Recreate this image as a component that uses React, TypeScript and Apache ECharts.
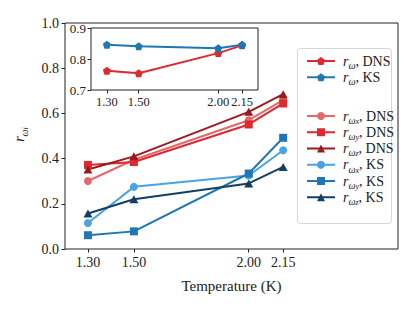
import React, { useEffect, useRef } from "react";
import * as echarts from "echarts";

const temps = [1.3, 1.5, 2.0, 2.15];
const insetDNS = [0.762, 0.754, 0.819, 0.844];
const insetKS = [0.846, 0.841, 0.835, 0.846];
const dnsX = [0.301, 0.395, 0.57, 0.659];
const dnsY = [0.372, 0.385, 0.551, 0.644];
const dnsZ = [0.352, 0.41, 0.607, 0.685];
const ksX = [0.115, 0.275, 0.325, 0.437];
const ksY = [0.061, 0.078, 0.334, 0.492];
const ksZ = [0.157, 0.22, 0.29, 0.363];

const FONT = "'Liberation Serif', 'DejaVu Serif', serif";
const INK = "#222";
const PENT = "path://M0,-1L0.951,-0.309L0.588,0.809L-0.588,0.809L-0.951,-0.309Z";

const labelMap: Record<string, string> = {
  "w DNS": "{r|r}{s|ω}{t|, DNS}",
  "w KS": "{r|r}{s|ω}{t|, KS}",
  "wx DNS": "{r|r}{s|ω}{q|x}{t|, DNS}",
  "wy DNS": "{r|r}{s|ω}{q|y}{t|, DNS}",
  "wz DNS": "{r|r}{s|ω}{q|z}{t|, DNS}",
  "wx KS": "{r|r}{s|ω}{q|x}{t|, KS}",
  "wy KS": "{r|r}{s|ω}{q|y}{t|, KS}",
  "wz KS": "{r|r}{s|ω}{q|z}{t|, KS}",
};

const rich = {
  r: { fontFamily: FONT, fontStyle: "italic", fontSize: 14, lineHeight: 18.5, color: INK, padding: [0, 0, 0, 3] },
  s: { fontFamily: FONT, fontStyle: "italic", fontSize: 10, lineHeight: 10, verticalAlign: "bottom", color: INK },
  q: { fontFamily: FONT, fontStyle: "italic", fontSize: 8, lineHeight: 8, verticalAlign: "bottom", color: INK },
  t: { fontFamily: FONT, fontSize: 14, lineHeight: 18.5, color: INK },
};

function mk(name: string, data: number[], color: string, symbol: string, size: any, xi = 0) {
  return {
    name,
    type: "line",
    xAxisIndex: xi,
    yAxisIndex: xi,
    data: temps.map((t, i) => [t, data[i]]),
    symbol,
    symbolSize: size,
    showSymbol: true,
    lineStyle: { color, width: 2 },
    itemStyle: { color },
    emphasis: { disabled: true },
  };
}

export default function App() {
  const ref = useRef<HTMLDivElement>(null);
  useEffect(() => {
    if (!ref.current) return;
    const chart = echarts.init(ref.current, null, { renderer: "svg" });
    const tickLabel = { fontFamily: FONT, fontSize: 14, color: INK };
    chart.setOption({
      animation: false,
      backgroundColor: "#fff",
      grid: [
        { left: 65, right: 17, top: 23, bottom: 63, show: true, borderColor: INK, borderWidth: 1 },
        { left: 91, right: 157, top: 28, bottom: 222, show: true, borderColor: INK, borderWidth: 1, backgroundColor: "#fff" },
      ],
      xAxis: [
        {
          type: "value", gridIndex: 0, min: 1.2, max: 2.65,
          axisLine: { show: false },
          axisTick: { show: true, length: 3.5, customValues: temps, lineStyle: { color: INK } },
          axisLabel: { ...tickLabel, margin: 6, customValues: temps, formatter: (v: number) => v.toFixed(2) },
          splitLine: { show: false },
          name: "Temperature (K)", nameLocation: "middle", nameGap: 29,
          nameTextStyle: { fontFamily: FONT, fontSize: 15, color: INK },
        },
        {
          type: "value", gridIndex: 1, min: 1.2, max: 2.25,
          axisLine: { show: false },
          axisTick: { show: true, length: 3.5, customValues: temps, lineStyle: { color: INK } },
          axisLabel: { ...tickLabel, fontSize: 12.5, margin: 5, customValues: temps, formatter: (v: number) => v.toFixed(2) },
          splitLine: { show: false },
        },
      ],
      yAxis: [
        {
          type: "value", gridIndex: 0, min: 0, max: 1, interval: 0.2,
          axisLine: { show: false },
          axisTick: { show: true, length: 3.5, lineStyle: { color: INK } },
          axisLabel: { ...tickLabel, margin: 6, formatter: (v: number) => v.toFixed(1) },
          splitLine: { show: false },
          name: "{r|r}{s|ω}{q|i}", nameLocation: "middle", nameGap: 36, nameRotate: 90,
          nameTextStyle: { rich },
        },
        {
          type: "value", gridIndex: 1, min: 0.7, max: 0.9, interval: 0.1,
          axisLine: { show: false },
          axisTick: { show: true, length: 3.5, lineStyle: { color: INK } },
          axisLabel: { ...tickLabel, fontSize: 13, margin: 5, formatter: (v: number) => v.toFixed(1) },
          splitLine: { show: false },
        },
      ],
      legend: [
        {
          orient: "vertical", left: 301, top: 49, itemGap: 0, itemWidth: 28, itemHeight: 10,
          data: ["w DNS", "w KS"],
          formatter: (n: string) => labelMap[n],
          textStyle: { rich },
          selectedMode: false,
        },
        {
          orient: "vertical", left: 301, top: 104, itemGap: 0, itemWidth: 28, itemHeight: 10,
          data: ["wx DNS", "wy DNS", "wz DNS", "wx KS", "wy KS", "wz KS"],
          formatter: (n: string) => labelMap[n],
          textStyle: { rich },
          selectedMode: false,
        },
      ],
      graphic: [
        {
          type: "rect", left: 297, top: 48, z: -1,
          shape: { width: 94, height: 175, r: 3 },
          style: { fill: "rgba(255,255,255,0.8)", stroke: "#d6d6d6", lineWidth: 1 },
        },
      ],
      series: [
        mk("wx DNS", dnsX, "#e8676a", "circle", 8),
        mk("wy DNS", dnsY, "#dc2a2f", "rect", 8),
        mk("wz DNS", dnsZ, "#9b1a1f", "triangle", [9, 8]),
        mk("wx KS", ksX, "#4aa3e2", "circle", 8),
        mk("wy KS", ksY, "#1f77b4", "rect", 8),
        mk("wz KS", ksZ, "#133f67", "triangle", [9, 8]),
        mk("w DNS", insetDNS, "#dc2a2f", PENT, 8, 1),
        mk("w KS", insetKS, "#1f77b4", PENT, 8, 1),
      ],
    });
    return () => chart.dispose();
  }, []);
  return <div ref={ref} style={{ position: "fixed", left: 0, top: 0, width: 415, height: 312 }} />;
}
